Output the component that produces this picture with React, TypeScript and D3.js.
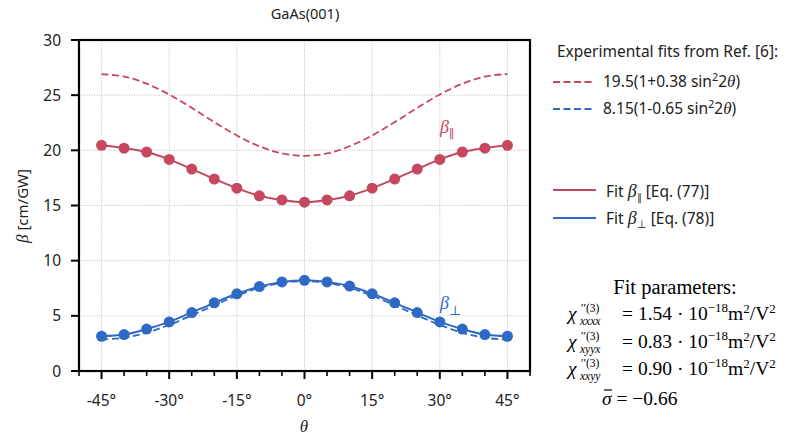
import React from "react";
import * as d3 from "d3";

const angles = [-45, -40, -35, -30, -25, -20, -15, -10, -5, 0, 5, 10, 15, 20, 25, 30, 35, 40, 45];
const betaPar = [20.45, 20.2, 19.85, 19.18, 18.3, 17.4, 16.57, 15.88, 15.5, 15.3, 15.5, 15.88, 16.57, 17.4, 18.3, 19.18, 19.85, 20.2, 20.45];
const betaPerp = [3.15, 3.3, 3.8, 4.45, 5.3, 6.18, 7.0, 7.65, 8.07, 8.22, 8.07, 7.7, 7.0, 6.18, 5.3, 4.45, 3.8, 3.3, 3.15];
const expPar = [26.91, 26.69, 26.04, 25.06, 23.85, 22.56, 21.35, 20.37, 19.72, 19.5, 19.72, 20.37, 21.35, 22.56, 23.85, 25.06, 26.04, 26.69, 26.91];
const expPerp = [2.85, 3.01, 3.47, 4.18, 5.04, 5.96, 6.83, 7.53, 7.99, 8.15, 7.99, 7.53, 6.83, 5.96, 5.04, 4.18, 3.47, 3.01, 2.85];
const xMajorTicks = [-45, -30, -15, 0, 15, 30, 45];
const xMinorTicks = [-50, -40, -35, -25, -20, -10, -5, 5, 10, 20, 25, 35, 40, 50];
const yTicks = [0, 5, 10, 15, 20, 25, 30];

const RED = "#c5485f";
const BLUE = "#2f69c4";
const SANS = "'Noto Sans', 'Open Sans', sans-serif";
const SERIF = "'Liberation Serif', 'DejaVu Serif', serif";

export default function App() {
  const x = d3.scaleLinear().domain([-50, 50]).range([79, 530]);
  const y = d3.scaleLinear().domain([0, 30]).range([371, 40]);
  const mk = (vals: number[]) =>
    d3
      .line<number>()
      .x((_, i) => x(angles[i]))
      .y((v) => y(v))
      .curve(d3.curveCatmullRom)(vals) || "";

  const chiLines = [
    { sub: "xxxx", val: "1.54", base: 320 },
    { sub: "xyyx", val: "0.83", base: 348 },
    { sub: "xxyy", val: "0.90", base: 375 },
  ];

  return (
    <svg width={788} height={438} style={{ position: "absolute", left: 0, top: 0, background: "#fff" }}>
      <rect width={788} height={438} fill="#fff" />
      {/* grid */}
      {xMajorTicks.map((t) => (
        <line key={"gx" + t} x1={x(t)} x2={x(t)} y1={y(30)} y2={y(0)} stroke="#aaa" strokeWidth={0.8} strokeDasharray="1,1.5" />
      ))}
      {yTicks.map((t) => (
        <line key={"gy" + t} x1={x(-50)} x2={x(50)} y1={y(t)} y2={y(t)} stroke="#aaa" strokeWidth={0.8} strokeDasharray="1,1.5" />
      ))}
      {/* experimental dashed */}
      <path d={mk(expPar)} fill="none" stroke={RED} strokeWidth={1.8} strokeDasharray="7,3.5" />
      <path d={mk(expPerp)} fill="none" stroke={BLUE} strokeWidth={1.8} strokeDasharray="7,3.5" />
      {/* fits */}
      <path d={mk(betaPar)} fill="none" stroke={RED} strokeWidth={2} />
      <path d={mk(betaPerp)} fill="none" stroke={BLUE} strokeWidth={2} />
      {betaPar.map((v, i) => (
        <circle key={"rp" + i} cx={x(angles[i])} cy={y(v)} r={5.5} fill={RED} />
      ))}
      {betaPerp.map((v, i) => (
        <circle key={"bp" + i} cx={x(angles[i])} cy={y(v)} r={5.5} fill={BLUE} />
      ))}
      {/* frame */}
      <rect x={x(-50)} y={y(30)} width={x(50) - x(-50)} height={y(0) - y(30)} fill="none" stroke="#000" strokeWidth={2.2} />
      {/* x ticks */}
      {xMajorTicks.map((t) => (
        <g key={"xt" + t}>
          <line x1={x(t)} x2={x(t)} y1={y(0)} y2={y(0) + 8} stroke="#000" strokeWidth={2} />
          <text x={x(t)} y={406} textAnchor="middle" fontFamily={SANS} fontSize={15.5} fill="#222">
            {t + "°"}
          </text>
        </g>
      ))}
      {xMinorTicks.map((t) => (
        <line key={"xm" + t} x1={x(t)} x2={x(t)} y1={y(0)} y2={y(0) + 5} stroke="#000" strokeWidth={1.6} />
      ))}
      {yTicks.map((t) => (
        <g key={"yt" + t}>
          <line x1={x(-50) - 8} x2={x(-50)} y1={y(t)} y2={y(t)} stroke="#000" strokeWidth={2} />
          <text x={61} y={y(t) + 5.5} textAnchor="end" fontFamily={SANS} fontSize={15.5} fill="#222">
            {t}
          </text>
        </g>
      ))}
      {/* axis labels */}
      <text x={304} y={432} textAnchor="middle" fontFamily={SERIF} fontStyle="italic" fontSize={17} fill="#222">
        θ
      </text>
      <text transform="translate(28,206) rotate(-90)" textAnchor="middle" fontFamily={SANS} fontSize={15} fill="#222">
        <tspan fontFamily={SERIF} fontStyle="italic" fontSize={17}>β</tspan> [cm/GW]
      </text>
      <text x={305} y={19} textAnchor="middle" fontFamily={SANS} fontSize={14.5} fill="#222">
        GaAs(001)
      </text>
      {/* in-plot labels */}
      <text x={440} y={133} fontFamily={SERIF} fontStyle="italic" fontSize={18} fill={RED}>
        β<tspan fontStyle="normal" fontSize={12} dy={5}>∥</tspan>
      </text>
      <text x={440} y={309} fontFamily={SERIF} fontStyle="italic" fontSize={18} fill={BLUE}>
        β<tspan fontStyle="normal" fontSize={13} dy={6}>⊥</tspan>
      </text>
      {/* legend */}
      <text x={557} y={57} fontFamily={SANS} fontSize={15.5} fill="#222">
        Experimental fits from Ref. [6]:
      </text>
      <line x1={553} x2={594} y1={82} y2={82} stroke={RED} strokeWidth={1.8} strokeDasharray="7,3.5" />
      <text x={603} y={87} fontFamily={SANS} fontSize={15.5} fill="#222">
        19.5(1+0.38 sin<tspan fontSize={11} dy={-6}>2</tspan>
        <tspan dy={6}>2</tspan>
        <tspan fontFamily={SERIF} fontStyle="italic" fontSize={17}>θ</tspan>)
      </text>
      <line x1={553} x2={594} y1={109} y2={109} stroke={BLUE} strokeWidth={1.8} strokeDasharray="7,3.5" />
      <text x={603} y={114} fontFamily={SANS} fontSize={15.5} fill="#222">
        8.15(1-0.65 sin<tspan fontSize={11} dy={-6}>2</tspan>
        <tspan dy={6}>2</tspan>
        <tspan fontFamily={SERIF} fontStyle="italic" fontSize={17}>θ</tspan>)
      </text>
      <line x1={553} x2={596} y1={190} y2={190} stroke={RED} strokeWidth={2} />
      <text x={606} y={197} fontFamily={SANS} fontSize={15.5} fill="#222">
        Fit <tspan fontFamily={SERIF} fontStyle="italic" fontSize={18}>β</tspan>
        <tspan fontSize={10} dy={4}>∥</tspan>
        <tspan dy={-4}> [Eq. (77)]</tspan>
      </text>
      <line x1={553} x2={596} y1={218} y2={218} stroke={BLUE} strokeWidth={2} />
      <text x={606} y={224} fontFamily={SANS} fontSize={15.5} fill="#222">
        Fit <tspan fontFamily={SERIF} fontStyle="italic" fontSize={18}>β</tspan>
        <tspan fontSize={11} dy={4}>⊥</tspan>
        <tspan dy={-4}> [Eq. (78)]</tspan>
      </text>
      {/* fit parameters */}
      <text x={675} y={294} textAnchor="middle" fontFamily={SERIF} fontSize={20.5} fill="#000">
        Fit parameters:
      </text>
      {chiLines.map((c) => (
        <g key={c.sub} fontFamily={SERIF} fill="#000">
          <text x={568} y={c.base} fontSize={19.5} fontStyle="italic">χ</text>
          <text x={581} y={c.base - 8} fontSize={11.5}>′′(3)</text>
          <text x={580} y={c.base + 5} fontSize={11.5} fontStyle="italic">{c.sub}</text>
          <text x={622} y={c.base} fontSize={19.5}>
            = {c.val} · 10<tspan fontSize={13} dy={-8}>−18</tspan>
            <tspan dy={8}>m</tspan>
            <tspan fontSize={13} dy={-7}>2</tspan>
            <tspan dy={7}>/V</tspan>
            <tspan fontSize={13} dy={-7}>2</tspan>
          </text>
        </g>
      ))}
      <line x1={604} x2={612} y1={390} y2={390} stroke="#000" strokeWidth={1.2} />
      <text x={602} y={405} fontFamily={SERIF} fontSize={19.5} fill="#000">
        <tspan fontStyle="italic">σ</tspan> = −0.66
      </text>
    </svg>
  );
}
